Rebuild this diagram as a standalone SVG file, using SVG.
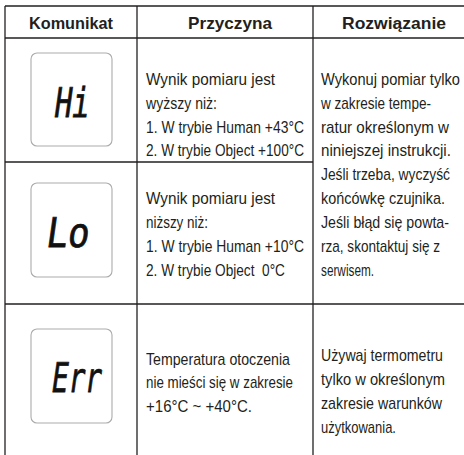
<svg xmlns="http://www.w3.org/2000/svg" width="464" height="455" viewBox="0 0 464 455">
<style>
.t{font-family:"Liberation Sans","DejaVu Sans",sans-serif;font-size:15.8px;fill:#231f20}
.h{font-family:"Liberation Sans","DejaVu Sans",sans-serif;font-size:16.5px;font-weight:bold;fill:#231f20}
.lcd{font-family:"DejaVu Sans Mono","Liberation Mono",monospace;font-size:41px;fill:#111;stroke:#111;stroke-width:0.8}
.box{fill:#fff;stroke:#ababab;stroke-width:1.1}
.g{stroke:#231f20;stroke-width:1.3;fill:none}
</style>
<rect width="464" height="455" fill="#fff"/>
<g id="grid" class="g">
<line x1="5" y1="6" x2="464" y2="6"/>
<line x1="5" y1="38" x2="464" y2="38"/>
<line x1="5" y1="162" x2="313" y2="162"/>
<line x1="5" y1="304" x2="464" y2="304"/>
<line x1="5" y1="6" x2="5" y2="455"/>
<line x1="137" y1="6" x2="137" y2="455"/>
<line x1="313" y1="6" x2="313" y2="455"/>
</g>
<g id="header">
<text class="h" x="29" y="28.5" textLength="84" lengthAdjust="spacingAndGlyphs">Komunikat</text>
<text class="h" x="188" y="28.5" textLength="84" lengthAdjust="spacingAndGlyphs">Przyczyna</text>
<text class="h" x="342" y="28.5" textLength="104" lengthAdjust="spacingAndGlyphs">Rozwiązanie</text>
</g>
<g id="row-hi">
<rect class="box" x="31" y="53" width="81" height="93" rx="6"/>
<text class="lcd" transform="translate(53,117) skewX(-8)" textLength="35" lengthAdjust="spacingAndGlyphs">Hi</text>
<g transform="translate(146,0) scale(0.85,1)">
<text class="t" x="0" y="85" textLength="151.8" lengthAdjust="spacingAndGlyphs">Wynik pomiaru jest</text>
<text class="t" x="0" y="109" textLength="83.5" lengthAdjust="spacingAndGlyphs">wyższy niż:</text>
<text class="t" x="0" y="133" textLength="185.9" lengthAdjust="spacingAndGlyphs">1. W trybie Human +43°C</text>
<text class="t" x="0" y="156" textLength="185.9" lengthAdjust="spacingAndGlyphs">2. W trybie Object +100°C</text>
</g>
</g>
<g id="solution-hi-lo" transform="translate(321,0) scale(0.85,1)">
<text class="t" x="0" y="85" textLength="163.5" lengthAdjust="spacingAndGlyphs">Wykonuj pomiar tylko</text>
<text class="t" x="0" y="109" textLength="129.4" lengthAdjust="spacingAndGlyphs">w zakresie tempe-</text>
<text class="t" x="0" y="133" textLength="150.6" lengthAdjust="spacingAndGlyphs">ratur określonym w</text>
<text class="t" x="0" y="156" textLength="152.9" lengthAdjust="spacingAndGlyphs">niniejszej instrukcji.</text>
<text class="t" x="0" y="180" textLength="151.8" lengthAdjust="spacingAndGlyphs">Jeśli trzeba, wyczyść</text>
<text class="t" x="0" y="204" textLength="145.9" lengthAdjust="spacingAndGlyphs">końcówkę czujnika.</text>
<text class="t" x="0" y="228" textLength="150.6" lengthAdjust="spacingAndGlyphs">Jeśli błąd się powta-</text>
<text class="t" x="0" y="252" textLength="140" lengthAdjust="spacingAndGlyphs">rza, skontaktuj się z</text>
<text class="t" x="0" y="276" textLength="62.4" lengthAdjust="spacingAndGlyphs">serwisem.</text>
</g>
<g id="row-lo">
<rect class="box" x="31" y="183" width="81" height="94" rx="6"/>
<text class="lcd" transform="translate(45,247) skewX(-8)" textLength="43" lengthAdjust="spacingAndGlyphs">Lo</text>
<g transform="translate(146,0) scale(0.85,1)">
<text class="t" x="0" y="204" textLength="151.8" lengthAdjust="spacingAndGlyphs">Wynik pomiaru jest</text>
<text class="t" x="0" y="228" textLength="72.9" lengthAdjust="spacingAndGlyphs">niższy niż:</text>
<text class="t" x="0" y="252" textLength="185.9" lengthAdjust="spacingAndGlyphs">1. W trybie Human +10°C</text>
<text class="t" x="0" y="276" textLength="163.5" lengthAdjust="spacingAndGlyphs" xml:space="preserve">2. W trybie Object  0°C</text>
</g>
</g>
<g id="row-err">
<rect class="box" x="31" y="329" width="81" height="94" rx="6"/>
<text class="lcd" transform="translate(50,392) skewX(-8)" textLength="50" lengthAdjust="spacingAndGlyphs">Err</text>
<g transform="translate(146,0) scale(0.85,1)">
<text class="t" x="0" y="365" textLength="169.4" lengthAdjust="spacingAndGlyphs">Temperatura otoczenia</text>
<text class="t" x="0" y="388" textLength="172.9" lengthAdjust="spacingAndGlyphs">nie mieści się w zakresie</text>
<text class="t" x="0" y="412" textLength="124.7" lengthAdjust="spacingAndGlyphs">+16°C ~ +40°C.</text>
</g>
<g transform="translate(321,0) scale(0.85,1)">
<text class="t" x="0" y="361" textLength="143.5" lengthAdjust="spacingAndGlyphs">Używaj termometru</text>
<text class="t" x="0" y="385" textLength="145.9" lengthAdjust="spacingAndGlyphs">tylko w określonym</text>
<text class="t" x="0" y="409" textLength="142.4" lengthAdjust="spacingAndGlyphs">zakresie warunków</text>
<text class="t" x="0" y="433" textLength="88.2" lengthAdjust="spacingAndGlyphs">użytkowania.</text>
</g>
</g>
</svg>
